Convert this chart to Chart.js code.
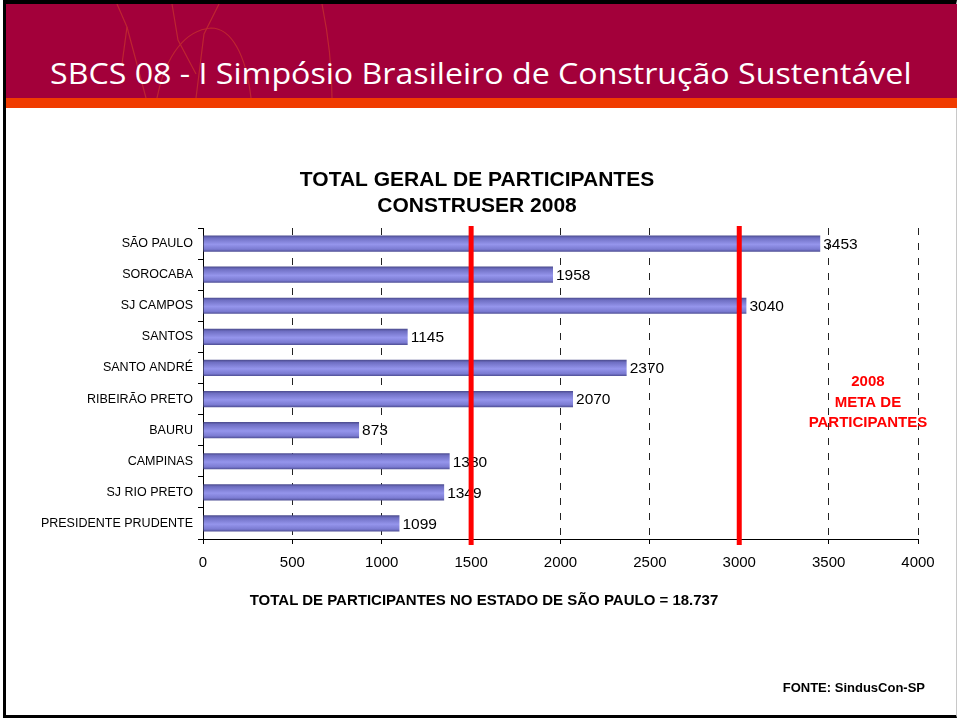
<!DOCTYPE html>
<html>
<head>
<meta charset="utf-8">
<script src="https://cdn.jsdelivr.net/npm/chart.js@4"></script>
<style>
  html, body { margin: 0; padding: 0; background: #fff; }
  #slide { position: relative; width: 961px; height: 722px; overflow: hidden; background: #fff; }
  #frame { position: absolute; left: 3px; top: 0; width: 954px; height: 718px;
           border-left: 3px solid #000; border-top: 4px solid #000; border-bottom: 3px solid #000;
           border-right: 1px solid #c8c8c8; box-sizing: border-box; }
  #header { position: absolute; left: 6px; top: 4px; width: 951px; height: 94px; background: #a3003a; }
  #stripe { position: absolute; left: 6px; top: 98px; width: 951px; height: 10px; background: #f03c00; }
  #deco { position: absolute; left: 6px; top: 4px; }
  #headTitle { position: absolute; left: 50px; top: 55px; font-family: "Open Sans", sans-serif;
               font-size: 30px; line-height: 36px; color: #fff; white-space: nowrap;
               transform-origin: 0 50%; }
  .note { position: absolute; font-family: "Liberation Sans", Arial, sans-serif; font-weight: bold; color: #000; white-space: nowrap; }
  #total { left: 0; width: 968px; text-align: center; top: 591px; font-size: 15px; }
  #fonte { right: 36px; top: 680px; font-size: 13px; }
  #c { position: absolute; left: 0; top: 0; }
</style>
</head>
<body>
<div id="slide">
  <div id="frame"></div>
  <div id="header"></div>
  <svg id="deco" width="951" height="94">
    <g fill="none" stroke="#c9352e" stroke-width="1.2" opacity="0.7">
      <path d="M111 0 L121 23 L140 94"/>
      <path d="M121 23 L116 60"/>
      <path d="M151 94 C160 50 180 26 205 24 C225 24 240 50 245 94"/>
      <path d="M166 0 L172 36 L190 70"/>
      <path d="M213 0 L198 30 L190 94"/>
      <path d="M316 0 C322 30 326 60 326 94"/>
    </g>
  </svg>
  <div id="stripe"></div>
  <div id="headTitle">SBCS 08 - I Simpósio Brasileiro de Construção Sustentável</div>
  <canvas id="c" width="961" height="722"></canvas>
  <div id="total" class="note">TOTAL DE PARTICIPANTES NO ESTADO DE SÃO PAULO = 18.737</div>
  <div id="fonte" class="note">FONTE: SindusCon-SP</div>
</div>
<script>
var cidades = ["SÃO PAULO", "SOROCABA", "SJ CAMPOS", "SANTOS", "SANTO ANDRÉ",
               "RIBEIRÃO PRETO", "BAURU", "CAMPINAS", "SJ RIO PRETO", "PRESIDENTE PRUDENTE"];
var participantes = [3453, 1958, 3040, 1145, 2370, 2070, 873, 1380, 1349, 1099];
var eixoMin = 0, eixoMax = 4000, eixoPasso = 500;
var metas = [1500, 3000];
var metaTexto = ["2008", "META DE", "PARTICIPANTES"];
var tituloGrafico = ["TOTAL GERAL DE PARTICIPANTES", "CONSTRUSER 2008"];

var FONT = "'Liberation Sans', Arial, sans-serif";
var BAR_PCT = 0.52;
var PAD_LEFT = 36;

// ajusta a largura do titulo do slide
var ht = document.getElementById("headTitle");
ht.style.transform = "scaleX(" + (862 / ht.offsetWidth) + ")";

// gradiente "cilindro" de cada barra
function barGradient(c) {
    var chart = c.chart;
    var y = chart.scales && chart.scales.y;
    if (!y || c.dataIndex === undefined) return "#8484dc";
    var yc = y.getPixelForValue(c.dataIndex);
    var half = Math.abs(y.getPixelForValue(1) - y.getPixelForValue(0)) * BAR_PCT / 2;
    if (!isFinite(yc) || !isFinite(half) || half <= 0) return "#8484dc";
    var g = chart.ctx.createLinearGradient(0, yc - half, 0, yc + half);
    g.addColorStop(0, "#4a4a8c");
    g.addColorStop(0.15, "#6e6ec2");
    g.addColorStop(0.55, "#9595ec");
    g.addColorStop(0.85, "#7b7bd2");
    g.addColorStop(1, "#4e4e94");
    return g;
}

var extras = {
    id: "extras",
    afterDatasetsDraw: function (chart) {
        var ctx = chart.ctx, area = chart.chartArea, sx = chart.scales.x;
        ctx.save();
        // rotulos de valor
        ctx.font = "15.5px " + FONT;
        ctx.fillStyle = "#000";
        ctx.textBaseline = "middle";
        ctx.textAlign = "left";
        chart.getDatasetMeta(0).data.forEach(function (bar, i) {
            ctx.fillText(String(participantes[i]), bar.x + 3, bar.y + 1);
        });
        // linhas vermelhas de meta
        ctx.strokeStyle = "#ff0000";
        ctx.lineWidth = 5;
        metas.forEach(function (m) {
            var x = sx.getPixelForValue(m);
            ctx.beginPath();
            ctx.moveTo(x, area.top - 2);
            ctx.lineTo(x, area.bottom + 6);
            ctx.stroke();
        });
        // texto da meta
        ctx.fillStyle = "#ff0000";
        ctx.font = "bold 15px " + FONT;
        ctx.textAlign = "center";
        var tx = sx.getPixelForValue(3720);
        metaTexto.forEach(function (t, i) {
            ctx.fillText(t, tx, area.top + 154 + i * 20.5);
        });
        ctx.restore();
    }
};

var chart = new Chart(document.getElementById("c"), {
    type: "bar",
    data: {
        labels: cidades,
        datasets: [{
            label: "Participantes",
            data: participantes,
            backgroundColor: barGradient,
            borderWidth: 0,
            barPercentage: BAR_PCT,
            categoryPercentage: 1
        }]
    },
    options: {
        indexAxis: "y",
        responsive: false,
        animation: false,
        events: [],
        layout: { padding: { left: PAD_LEFT, right: 43, top: 0, bottom: 0 } },
        plugins: {
            legend: { display: false },
            tooltip: { enabled: false },
            title: {
                display: true,
                text: tituloGrafico,
                color: "#000",
                font: { family: FONT, size: 21, weight: "bold", lineHeight: 26 / 21 },
                padding: { top: 167, bottom: 9 }
            }
        },
        scales: {
            x: {
                min: eixoMin,
                max: eixoMax,
                ticks: {
                    stepSize: eixoPasso, color: "#000", padding: 10,
                    font: { family: FONT, size: 15 },
                    callback: function (v) { return String(v); }
                },
                grid: {
                    color: function (c) { return c.tick && c.tick.value === 0 ? "rgba(0,0,0,0)" : "#222"; },
                    tickColor: "#000",
                    tickLength: 5,
                    tickBorderDash: []
                },
                border: { color: "#000", width: 1, dash: [7, 8] },
                afterFit: function (s) { s.height = 722 - 539; }
            },
            y: {
                ticks: { color: "#000", padding: 5, font: { family: FONT, size: 12.5 } },
                grid: { drawOnChartArea: false, tickColor: "#000", tickLength: 5, offset: true },
                border: { color: "#000", width: 1 },
                afterFit: function (s) { s.width = 203 - PAD_LEFT; }
            }
        }
    },
    plugins: [extras]
});
// gradientes dependem das escalas ja posicionadas
chart.update();
</script>
</body>
</html>
